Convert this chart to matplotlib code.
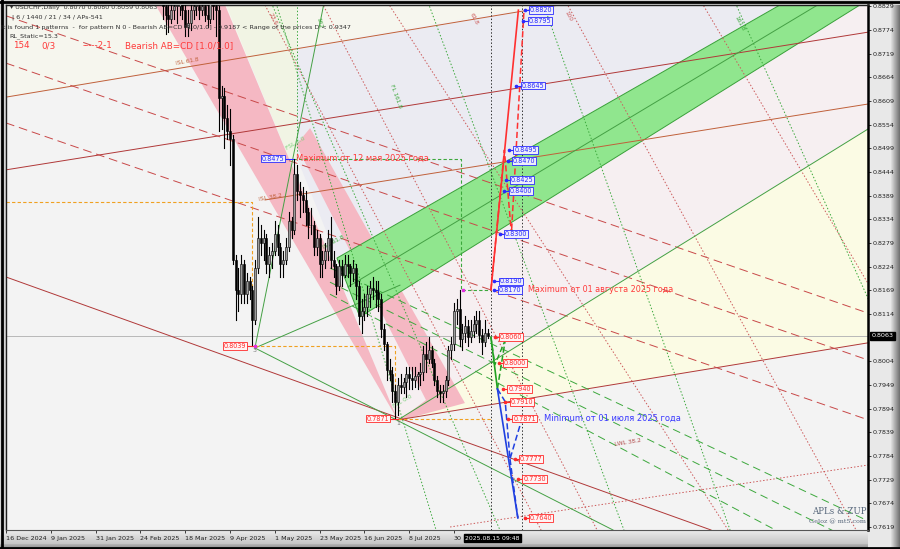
import numpy as np
import matplotlib.pyplot as plt
from matplotlib.patches import Polygon
from matplotlib.lines import Line2D

plt.rcParams['font.family'] = ['DejaVu Sans']

# ---- daily candles, bar index counted from 16 Dec 2024 (= 0) ----
first_bar = 56
opens = [0.8860, 0.8830, 0.8810, 0.8800, 0.8820, 0.8830, 0.8830, 0.8850, 0.8820, 0.8780,
         0.8790, 0.8820, 0.8830, 0.8830, 0.8820, 0.8830, 0.8810, 0.8800, 0.8840, 0.8830,
         0.8820, 0.8615, 0.8620, 0.8570, 0.8540, 0.8520, 0.8240, 0.8170, 0.8160, 0.8230,
         0.8160, 0.8190, 0.8170, 0.8100, 0.8220, 0.8290, 0.8280, 0.8290, 0.8230, 0.8250,
         0.8260, 0.8300, 0.8270, 0.8230, 0.8240, 0.8270, 0.8330, 0.8310, 0.8440, 0.8400,
         0.8390, 0.8380, 0.8350, 0.8320, 0.8320, 0.8270, 0.8290, 0.8230, 0.8240, 0.8260,
         0.8290, 0.8240, 0.8225, 0.8180, 0.8225, 0.8205, 0.8230, 0.8225, 0.8210, 0.8220,
         0.8180, 0.8110, 0.8120, 0.8130, 0.8160, 0.8175, 0.8170, 0.8165, 0.8150, 0.8080,
         0.8045, 0.7985, 0.7975, 0.7935, 0.7910, 0.7950, 0.7945, 0.7955, 0.7975, 0.7965,
         0.7960, 0.7970, 0.7975, 0.7980, 0.8020, 0.8010, 0.8030, 0.8000, 0.7960, 0.7935,
         0.7930, 0.7935, 0.7960, 0.8030, 0.8045, 0.8120, 0.8125, 0.8055, 0.8070, 0.8085,
         0.8060, 0.8075, 0.8090, 0.8100, 0.8065, 0.8050, 0.8070]
highs = [0.8880, 0.8850, 0.8840, 0.8850, 0.8860, 0.8845, 0.8870, 0.8860, 0.8835, 0.8820,
         0.8850, 0.8850, 0.8860, 0.8850, 0.8855, 0.8850, 0.8835, 0.8850, 0.8860, 0.8850,
         0.8830, 0.8645, 0.8640, 0.8600, 0.8590, 0.8530, 0.8250, 0.8220, 0.8250, 0.8240,
         0.8210, 0.8200, 0.8180, 0.8240, 0.8340, 0.8320, 0.8310, 0.8300, 0.8270, 0.8280,
         0.8330, 0.8320, 0.8280, 0.8260, 0.8290, 0.8350, 0.8340, 0.8475, 0.8460, 0.8420,
         0.8410, 0.8400, 0.8360, 0.8360, 0.8330, 0.8310, 0.8300, 0.8260, 0.8280, 0.8310,
         0.8340, 0.8260, 0.8230, 0.8240, 0.8240, 0.8250, 0.8250, 0.8230, 0.8240, 0.8230,
         0.8190, 0.8150, 0.8160, 0.8180, 0.8190, 0.8200, 0.8190, 0.8190, 0.8160, 0.8090,
         0.8050, 0.8010, 0.7990, 0.7950, 0.7965, 0.7975, 0.7965, 0.7990, 0.7990, 0.7990,
         0.7990, 0.7980, 0.8000, 0.8040, 0.8050, 0.8060, 0.8040, 0.8010, 0.7970, 0.7950,
         0.7950, 0.7970, 0.8040, 0.8060, 0.8140, 0.8150, 0.8170, 0.8090, 0.8110, 0.8100,
         0.8100, 0.8110, 0.8120, 0.8120, 0.8080, 0.8100, 0.8080]
lows = [0.8800, 0.8765, 0.8770, 0.8790, 0.8800, 0.8790, 0.8810, 0.8800, 0.8760, 0.8760,
        0.8775, 0.8800, 0.8810, 0.8800, 0.8810, 0.8795, 0.8780, 0.8790, 0.8800, 0.8760,
        0.8540, 0.8545, 0.8500, 0.8520, 0.8460, 0.8230, 0.8100, 0.8120, 0.8140, 0.8140,
        0.8140, 0.8150, 0.8039, 0.8090, 0.8210, 0.8250, 0.8240, 0.8210, 0.8200, 0.8220,
        0.8250, 0.8250, 0.8200, 0.8200, 0.8230, 0.8260, 0.8290, 0.8300, 0.8380, 0.8340,
        0.8350, 0.8320, 0.8290, 0.8300, 0.8250, 0.8250, 0.8200, 0.8200, 0.8220, 0.8240,
        0.8220, 0.8200, 0.8160, 0.8170, 0.8180, 0.8200, 0.8200, 0.8180, 0.8190, 0.8150,
        0.8090, 0.8070, 0.8100, 0.8110, 0.8130, 0.8150, 0.8130, 0.8120, 0.8060, 0.8030,
        0.7960, 0.7960, 0.7910, 0.7871, 0.7880, 0.7930, 0.7930, 0.7920, 0.7940, 0.7940,
        0.7945, 0.7940, 0.7950, 0.7960, 0.7980, 0.8000, 0.7990, 0.7950, 0.7920, 0.7910,
        0.7910, 0.7920, 0.7950, 0.8010, 0.8030, 0.8090, 0.8040, 0.8030, 0.8050, 0.8040,
        0.8050, 0.8060, 0.8070, 0.8050, 0.8020, 0.8040, 0.8059]
closes = [0.8830, 0.8810, 0.8800, 0.8820, 0.8830, 0.8830, 0.8850, 0.8820, 0.8780, 0.8790,
          0.8820, 0.8830, 0.8830, 0.8820, 0.8830, 0.8810, 0.8800, 0.8840, 0.8830, 0.8820,
          0.8615, 0.8620, 0.8570, 0.8540, 0.8520, 0.8240, 0.8170, 0.8160, 0.8230, 0.8160,
          0.8190, 0.8170, 0.8100, 0.8220, 0.8290, 0.8280, 0.8290, 0.8230, 0.8250, 0.8260,
          0.8300, 0.8270, 0.8230, 0.8240, 0.8270, 0.8330, 0.8310, 0.8440, 0.8400, 0.8390,
          0.8380, 0.8350, 0.8320, 0.8320, 0.8270, 0.8290, 0.8230, 0.8240, 0.8260, 0.8290,
          0.8240, 0.8225, 0.8180, 0.8225, 0.8205, 0.8230, 0.8225, 0.8210, 0.8220, 0.8180,
          0.8110, 0.8120, 0.8130, 0.8160, 0.8175, 0.8170, 0.8165, 0.8150, 0.8080, 0.8045,
          0.7985, 0.7975, 0.7935, 0.7910, 0.7950, 0.7945, 0.7955, 0.7975, 0.7965, 0.7960,
          0.7970, 0.7975, 0.7980, 0.8020, 0.8010, 0.8030, 0.8000, 0.7960, 0.7935, 0.7930,
          0.7935, 0.7960, 0.8030, 0.8045, 0.8120, 0.8125, 0.8055, 0.8070, 0.8085, 0.8060,
          0.8075, 0.8090, 0.8100, 0.8065, 0.8050, 0.8070, 0.8063]

date_bars = [0, 16, 32, 48, 64, 80, 96, 112, 128, 144, 160]
date_labels = ['16 Dec 2024', '9 Jan 2025', '31 Jan 2025', '24 Feb 2025', '18 Mar 2025',
               '9 Apr 2025', '1 May 2025', '23 May 2025', '16 Jun 2025', '8 Jul 2025', '30']
price_ticks = [0.8829, 0.8774, 0.8719, 0.8664, 0.8609, 0.8554, 0.8499, 0.8444, 0.8389, 0.8334,
               0.8279, 0.8224, 0.8169, 0.8114, 0.8004, 0.7949, 0.7894, 0.7839, 0.7784, 0.7729,
               0.7674, 0.7619]
last_price = 0.8063

# pivots (bar, price)
pivot_low1 = (88.9, 0.8039)
pivot_high = (102.5, 0.8475)
pivot_low2 = (140.0, 0.7871)
pivot_aug = (163.2, 0.8170)
now_bar, future_bar = 173.2, 184.3

# ZUP projection levels
blue_levels = [0.8820, 0.8795, 0.8645, 0.8495, 0.8470, 0.8425, 0.8400, 0.8300, 0.8190, 0.8170]
red_levels = [0.8060, 0.8000, 0.7940, 0.7910, 0.7871, 0.7777, 0.7730, 0.7640]

# background zones (bar, price)
zone_topleft = [(0, 0.885), (208.6, 0.885), (0, 0.8618)]
zone_pale = [(77.5, 0.885), (103.9, 0.885), (103.9, 0.8477), (101.1, 0.8477)]
zone_lavender = [(103.9, 0.8477), (103.9, 0.8728), (208.6, 0.8844), (279.6, 0.8844), (118.2, 0.8244)]
zone_pinkish = [(126.4, 0.8107), (307.9, 0.8844), (307.9, 0.8544), (140.0, 0.7868), (132.0, 0.7990)]
zone_yellow = [(140.0, 0.7868), (307.9, 0.8544), (307.9, 0.8047)]
band_pink_a = [(51.8, 0.8850), (77.1, 0.8850), (139.8, 0.7869)]
band_pink_b = [(103.6, 0.8507), (108.6, 0.8546), (163.9, 0.7907), (140.0, 0.7865), (150.0, 0.7914)]
band_green = [(118.2, 0.8244), (279.6, 0.8844), (307.9, 0.8844), (126.4, 0.8107)]

red_solid = [((0, 0.8200), (251.8, 0.7612)), ((140.0, 0.7868), (307.9, 0.8047)),
             ((0, 0.8449), (307.9, 0.8769))]
brown_solid = [((0, 0.8618), (208.6, 0.8844)), ((92.5, 0.8379), (307.9, 0.8602))]
red_dashed = [((0, 0.8558), (307.9, 0.7868)), ((0, 0.8697), (307.9, 0.8007)),
              ((0, 0.8807), (307.9, 0.8116))]
red_dotted = [((92.5, 0.8832), (191.1, 0.7612)), ((112.3, 0.8844), (211.1, 0.7612)),
              ((135.7, 0.8844), (257.9, 0.7612)), ((199.6, 0.8844), (303.6, 0.7612)),
              ((247.9, 0.8844), (360.0, 0.7612)), ((158.6, 0.7619), (307.9, 0.7763))]
green_solid = [((88.9, 0.8035), (113.8, 0.8844)), ((88.9, 0.8035), (216.8, 0.7612)),
               ((140.0, 0.7868), (307.9, 0.8544)), ((88.9, 0.8035), (140.7, 0.8181)),
               ((122.1, 0.8177), (292.9, 0.8844))]
green_dashed = [((115.7, 0.8221), (307.9, 0.7633)), ((115.7, 0.8188), (307.9, 0.7570)),
                ((115.7, 0.8160), (307.9, 0.7498))]
green_dotted = [((103.9, 0.8477), (103.9, 0.8844)), ((150.4, 0.8844), (220.7, 0.7612)),
                ((191.4, 0.8844), (258.6, 0.7612)), ((96.1, 0.8844), (153.6, 0.7612)),
                ((94.3, 0.8844), (176.4, 0.7612)), ((260.0, 0.8844), (345.0, 0.7612))]

W, H = 900, 549
fig = plt.figure(figsize=(9, 5.49), dpi=100)
fig.patch.set_facecolor('#d4d4d4')

L, R, T, B = 6, 868, 5, 530
ax = fig.add_axes([L / W, 1 - B / H, (R - L) / W, (B - T) / H])
ax.set_xlim(0, 307.86)
ax.set_ylim(0.76120, 0.88321)
ax.set_facecolor('#f3f3f3')

# right and bottom gradient strips
gr = fig.add_axes([R / W, 0, 1 - R / W, 1 - T / H], zorder=-1)
g = np.concatenate([np.full(22, 0.91), np.linspace(0.91, 0.45, 10)])
gr.imshow(g[None, :], cmap='gray', vmin=0, vmax=1, aspect='auto', extent=[0, 1, 0, 1])
gr.axis('off')
gb = fig.add_axes([0, 0, R / W, 1 - B / H], zorder=-1)
gv = np.concatenate([np.linspace(0.92, 0.78, 14), np.linspace(0.7, 0.55, 5)])
gb.imshow(gv[:, None], cmap='gray', vmin=0, vmax=1, aspect='auto', extent=[0, 1, 0, 1])
gb.axis('off')

for pts, col in [(zone_topleft, '#f6f6ee'), (zone_pale, '#f1f4e4'), (zone_lavender, '#ebebf2'),
                 (zone_pinkish, '#f6eff1'), (zone_yellow, '#fbfbe4')]:
    ax.add_patch(Polygon(pts, closed=True, fc=col, ec='none', zorder=0.5))
for pts in (band_pink_a, band_pink_b):
    ax.add_patch(Polygon(pts, closed=True, fc='#f5b8c3', ec='none', zorder=1))
ax.add_patch(Polygon(band_green, closed=True, fc='#90e68e', ec='#3aa03a', lw=0.7, zorder=1))


def draw(lines, **kw):
    for (x0, y0), (x1, y1) in lines:
        ax.plot([x0, x1], [y0, y1], **kw)


draw(red_solid, color='#b03838', lw=0.7, zorder=2)
draw(brown_solid, color='#c0603a', lw=0.7, zorder=2)
draw(red_dashed, color='#c84848', lw=0.7, dashes=(9, 5), zorder=2)
draw(red_dotted, color='#cc5a5a', lw=0.7, dashes=(1.5, 2), zorder=2)
draw(green_solid, color='#44a044', lw=0.7, zorder=2)
draw(green_dashed, color='#3ca83c', lw=0.7, dashes=(8, 5), zorder=2)
draw(green_dotted, color='#3ca83c', lw=0.7, dashes=(1.5, 2), zorder=2)

# current price line and time markers
ax.axhline(last_price, color='#b8b8b8', lw=0.7, zorder=1.5)
for xb in (now_bar, future_bar):
    ax.axvline(xb, color='#333333', lw=0.7, dashes=(1.5, 2), zorder=3)

# orange helper lines
orange = dict(color='#f0a020', lw=0.8, dashes=(3, 2), zorder=2.5)
ax.plot([0, 87.8, 87.8], [0.8374, 0.8374, 0.8170], **orange)
ax.plot([pivot_low1[0], 139.0, 139.0], [pivot_low1[1], pivot_low1[1], pivot_low2[1]], **orange)
ax.plot([pivot_low2[0], now_bar], [pivot_low2[1], pivot_low2[1]], **orange)
# green dashed box from the May maximum
gbox = dict(color='#3ca83c', lw=0.8, dashes=(3, 2), zorder=2.5)
ax.plot([pivot_high[0], 162.5, 162.5, now_bar],
        [pivot_high[1], pivot_high[1], pivot_aug[1], pivot_aug[1]], **gbox)

# candles
xs = np.arange(first_bar, first_bar + len(closes))
for x, o, h, l, c in zip(xs, opens, highs, lows, closes):
    ax.plot([x, x], [l, h], color='black', lw=0.8, zorder=4)
    up = c >= o
    ax.bar(x, max(abs(c - o), 0.00012), bottom=min(o, c), width=0.7,
           color='#9c9c9c' if up else 'black', edgecolor='black', lw=0.4, zorder=4.5)

# ZUP projection lines
ax.plot([now_bar, 183.0], [0.8170, 0.8820], color='#ff3030', lw=1.2, zorder=5)
ax.plot([now_bar, 178.0, 180.5, 185.0], [0.8170, 0.8495, 0.8300, 0.8820],
        color='#ff3030', lw=1.1, dashes=(4, 2), zorder=5)
ax.plot([now_bar, 175.5], [0.8060, 0.7940], color='#20a020', lw=1.2, zorder=5)
ax.plot([175.5, 178.2], [0.7940, 0.8049], color='#20a020', lw=1.1, dashes=(4, 2), zorder=5)
ax.plot([now_bar, 174.6, 178.0], [0.8060, 0.7996, 0.8049], color='#20a020', lw=1.0,
        dashes=(4, 2), zorder=5)
ax.plot([175.5, 182.8], [0.7940, 0.7640], color='#2040e0', lw=1.2, zorder=5)
ax.plot([175.5, 178.3, 180.0, 184.3], [0.7940, 0.7910, 0.7777, 0.7871],
        color='#2040e0', lw=1.1, dashes=(4, 2), zorder=5)
ax.plot([180.0, 182.8], [0.7777, 0.7640], color='#2040e0', lw=1.1, dashes=(4, 2), zorder=5)


def level_box(xb, p, col, fc):
    ax.plot([xb - 1.6, xb], [p, p], color=col, lw=0.8, zorder=6)
    ax.plot([xb - 1.6], [p], 'o', ms=1.6, color=col, zorder=6)
    ax.text(xb + 0.25, p, f'{p:.4f}', color=col, fontsize=4.7, ha='left', va='center', zorder=7,
            bbox=dict(boxstyle='square,pad=0.12', fc=fc, ec=col, lw=0.6))


for p in blue_levels:
    level_box((492 + 477 * (p - 0.8170)) / 2.8, p, '#2a2aff', '#eeeefa')
for p in red_levels:
    level_box((493 + 714 * (0.8060 - p)) / 2.8, p, '#ff2a2a', '#fff4f4')

# pivot labels
ax.text(pivot_low1[0] - 3.0, pivot_low1[1], '0.8039', color='#ff2a2a', fontsize=4.7, ha='right',
        va='center', zorder=7, bbox=dict(boxstyle='square,pad=0.12', fc='#fff4f4', ec='#ff2a2a', lw=0.6))
ax.plot([pivot_low1[0] - 2.8, pivot_low1[0]], [pivot_low1[1]] * 2, color='#ff2a2a', lw=0.8, zorder=6)
ax.text(pivot_low2[0] - 3.0, pivot_low2[1], '0.7871', color='#ff2a2a', fontsize=4.7, ha='right',
        va='center', zorder=7, bbox=dict(boxstyle='square,pad=0.12', fc='#fff4f4', ec='#ff2a2a', lw=0.6))
ax.plot([pivot_low2[0] - 2.8, pivot_low2[0]], [pivot_low2[1]] * 2, color='#ff2a2a', lw=0.8, zorder=6)
ax.text(pivot_high[0] - 3.0, pivot_high[1], '0.8475', color='#2a2aff', fontsize=4.7, ha='right',
        va='center', zorder=7, bbox=dict(boxstyle='square,pad=0.12', fc='#eeeefa', ec='#2a2aff', lw=0.6))
ax.plot([pivot_high[0] - 2.8, pivot_high[0]], [pivot_high[1]] * 2, color='#2a2aff', lw=0.8, zorder=6)
ax.text(pivot_low1[0], pivot_low1[1] - 0.0005, '3', color='#777777', fontsize=4.5, ha='center', va='top', zorder=7)
ax.text(pivot_low2[0], pivot_low2[1] - 0.0005, '1', color='#777777', fontsize=4.5, ha='center', va='top', zorder=7)
for pt in (pivot_low1, pivot_aug):
    ax.plot([pt[0]], [pt[1]], 's', ms=1.5, color='#e030e0', zorder=7)

ax.text(pivot_high[0] + 1.2, pivot_high[1], 'Maximum от 12 мая 2025 года', color='#ff3a3a',
        fontsize=6, ha='left', va='center', zorder=7)
ax.text(186.5, 0.8170, 'Maximum от 01 августа 2025 года', color='#ff3a3a',
        fontsize=5.8, ha='left', va='center', zorder=7)
ax.text(192.0, 0.7871, 'Minimum от 01 июля 2025 года', color='#3a3aff',
        fontsize=6, ha='left', va='center', zorder=7)

# small fibo captions
cap = dict(fontsize=4.2, zorder=3, ha='center', va='center')
ax.text(64.6, 0.8700, 'ISL 61.8', color='#c0603a', rotation=10, **cap)
ax.text(94.3, 0.8385, 'ISL 38.2', color='#c0603a', rotation=10, **cap)
ax.text(222.0, 0.7815, 'LWL 38.2', color='#b04848', rotation=9, **cap)
ax.text(117.0, 0.8280, 'ISL 61.8', color='#3ca83c', rotation=28, **cap)
ax.text(141.5, 0.7910, 'FSL 0.0', color='#7ad07a', rotation=30, **cap)
ax.text(103.5, 0.8510, 'FSL 0.0', color='#7ad07a', rotation=30, **cap)
ax.text(95.5, 0.8800, '23.6', color='#cc5a5a', rotation=-62, **cap)
ax.text(112.0, 0.8790, '162', color='#3ca83c', rotation=-75, **cap)
ax.text(139.0, 0.8620, 'FL 161.8', color='#3ca83c', rotation=-70, **cap)
ax.text(167.0, 0.8800, '61.8', color='#cc5a5a', rotation=-62, **cap)
ax.text(201.0, 0.8805, '100', color='#cc5a5a', rotation=-62, **cap)
ax.text(262.0, 0.8790, '161.8', color='#3ca83c', rotation=-62, **cap)

# axes styling
for s in ('left', 'top'):
    ax.spines[s].set_color('#202020')
    ax.spines[s].set_linewidth(1.0)
ax.spines['right'].set_color('black')
ax.spines['right'].set_linewidth(1.8)
ax.spines['bottom'].set_color('#555555')
ax.spines['bottom'].set_linewidth(0.8)
ax.yaxis.tick_right()
ax.set_yticks(price_ticks)
ax.set_yticklabels([f'{p:.4f}' for p in price_ticks])
ax.tick_params(axis='y', length=2, width=0.6, pad=1.5, labelsize=4.6, colors='#202020')
ax.set_xticks(date_bars)
ax.set_xticklabels(date_labels, ha='left')
ax.tick_params(axis='x', length=2, width=0.6, pad=2.5, labelsize=4.6, colors='#202020')
ax.text(1.004, last_price, f'{last_price:.4f}', transform=ax.get_yaxis_transform(), color='white',
        fontsize=4.6, ha='left', va='center', zorder=8,
        bbox=dict(boxstyle='square,pad=0.2', fc='black', ec='black'))


def ftext(x, y, s, **kw):
    fig.text(x / W, 1 - y / H, s, va='center', ha='left', **kw)


hdr = dict(fontsize=4.6, color='#303030', zorder=10)
ftext(10, 7, '▾ USDCHF,Daily  0.8070 0.8080 0.8059 0.8063', **hdr)
ftext(12, 17, '| 6 / 1440 / 21 / 34 / APs-541', **hdr)
ftext(1, 27, 'It is found 1 patterns  -  for pattern N 0 - Bearish AB=CD [1.0/1.0] - 0.9187 '
             '< Range of the prices D < 0.9347', **hdr)
ftext(9, 36, 'RL_Static=15.3', **hdr)
red_hdr = dict(fontsize=6.3, color='#ff3a3a', zorder=10)
ftext(13, 46, '154', **red_hdr)
ftext(41, 46, '0/3', **red_hdr)
ftext(83, 46, '-----2-1', **red_hdr)
ftext(125, 46, 'Bearish AB=CD [1.0/1.0]', **red_hdr)
ftext(465, 538, '2025.08.15 09:48', fontsize=4.4, color='white', zorder=10,
      bbox=dict(boxstyle='square,pad=0.2', fc='black', ec='black'))
ftext(812, 512, 'APLs & ZUP', fontsize=6.2, color='#56667a', family='DejaVu Serif', zorder=10)
ftext(809, 522, 'Geloz @ mt5.com', fontsize=4.6, color='#56667a', family='DejaVu Serif', zorder=10)

# outer frame
for xy in ([(1.5 / W, 1.5 / W), (0, 1)], [(0, 1), (1 - 1.5 / H, 1 - 1.5 / H)],
           [(0, 1), (1.5 / H, 1.5 / H)]):
    fig.add_artist(Line2D(xy[0], xy[1], color='black', lw=2))

fig.savefig('out.png', dpi=100, facecolor=fig.get_facecolor())
